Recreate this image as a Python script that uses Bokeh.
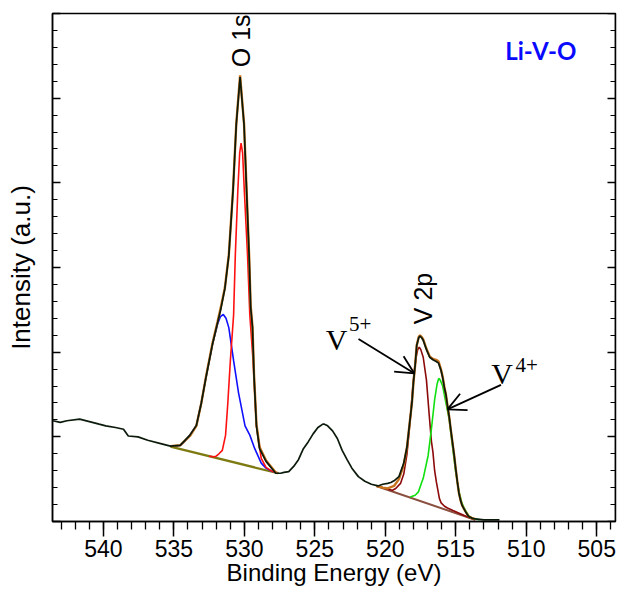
import math
from bokeh.plotting import figure
from bokeh.models import Range1d, LinearAxis, SingleIntervalTicker, Arrow, OpenHead
from bokeh.embed import file_html
from bokeh.resources import INLINE
from bokeh.core.properties import value

# ---------------- data (binding energy in eV, intensity in a.u.) ----------------
meas_e = [543.57, 543.06, 542.59, 541.68, 540.99, 540.30, 539.83, 539.14, 538.57, 538.23,
          537.54, 536.85, 535.93, 535.24, 534.55, 533.86, 533.40, 533.05, 532.71, 532.25,
          531.68, 531.38, 531.10, 530.80, 530.57, 530.30, 530.02, 529.84, 529.66, 529.55,
          529.42, 529.31, 529.14, 528.92, 528.46, 527.77, 527.42, 527.19, 526.85, 526.50,
          526.16, 525.81, 525.47, 525.12, 524.78, 524.43, 524.32, 524.09, 523.74, 523.40,
          523.06, 522.71, 522.37, 521.91, 521.45, 520.99, 520.52, 520.18, 519.83, 519.61,
          519.38, 519.03, 518.69, 518.46, 518.28, 518.11, 518.00, 517.88, 517.77, 517.63,
          517.54, 517.42, 517.31, 517.08, 516.85, 516.62, 516.39, 516.22, 516.04, 515.93,
          515.81, 515.70, 515.59, 515.47, 515.35, 515.24, 515.12, 515.01, 514.89, 514.78,
          514.66, 514.55, 514.32, 514.09, 513.86, 513.63, 513.00, 512.40, 511.90]
meas_i = [1.19, 1.17, 1.19, 1.21, 1.18, 1.15, 1.13, 1.11, 1.09, 1.01,
          1.00, 0.96, 0.92, 0.89, 0.90, 1.02, 1.135, 1.40, 1.71, 2.10,
          2.50, 2.75, 3.14, 3.91, 4.69, 5.25, 4.69, 3.91, 3.14, 2.53,
          2.29, 1.71, 1.13, 0.86, 0.71, 0.57, 0.57, 0.58, 0.59, 0.65,
          0.73, 0.86, 0.94, 1.035, 1.11, 1.15, 1.15, 1.13, 1.07, 0.98,
          0.84, 0.73, 0.63, 0.53, 0.475, 0.44, 0.42, 0.44, 0.45, 0.46,
          0.48, 0.53, 0.69, 0.88, 1.15, 1.40, 1.65, 1.85, 2.08, 2.17,
          2.19, 2.17, 2.14, 2.03, 1.94, 1.91, 1.89, 1.87, 1.78, 1.70,
          1.58, 1.50, 1.37, 1.24, 1.08, 0.94, 0.79, 0.63, 0.47, 0.34,
          0.25, 0.19, 0.12, 0.06, 0.04, 0.03, 0.02, 0.02, 0.02]

# fit envelopes
env_o_e = [535.24, 534.55, 533.86, 533.40, 533.05, 532.71, 532.25, 531.90, 531.68, 531.38,
           531.10, 530.80, 530.57, 530.30, 530.02, 529.84, 529.66, 529.55, 529.42, 529.31,
           529.14, 528.92, 528.46, 527.77, 527.60]
env_o_i = [0.89, 0.90, 1.01, 1.13, 1.40, 1.72, 2.11, 2.36, 2.52, 2.76,
           3.15, 3.92, 4.70, 5.27, 4.70, 3.92, 3.15, 2.55, 2.30, 1.73,
           1.15, 0.88, 0.72, 0.58, 0.57]
env_v_e = [520.64, 520.18, 519.83, 519.38, 519.03, 518.69, 518.46, 518.28, 518.11, 518.00,
           517.88, 517.77, 517.63, 517.54, 517.42, 517.31, 517.08, 516.85, 516.62, 516.39,
           516.22, 516.04, 515.93, 515.81, 515.70, 515.59, 515.47, 515.35, 515.24, 515.12,
           515.01, 514.89, 514.78, 514.66, 514.55, 514.32, 514.09, 513.86, 513.63]
env_v_i = [0.42, 0.40, 0.39, 0.42, 0.50, 0.67, 0.88, 1.15, 1.40, 1.65,
           1.85, 2.08, 2.18, 2.20, 2.18, 2.15, 2.04, 1.95, 1.92, 1.91,
           1.89, 1.79, 1.71, 1.59, 1.50, 1.37, 1.24, 1.08, 0.94, 0.79,
           0.63, 0.47, 0.34, 0.25, 0.19, 0.12, 0.06, 0.04, 0.03]

# O 1s components (incl. background)
o_hi_e = [535.24, 534.90, 534.55, 534.20, 533.86, 533.40, 533.05, 532.71, 532.25, 531.90,
          531.70, 531.49, 531.30, 531.10, 530.76, 530.41, 529.95, 529.61, 529.26, 528.80,
          528.46, 528.11, 527.77, 527.60]
o_hi_i = [0.89, 0.89, 0.90, 0.95, 1.02, 1.135, 1.40, 1.71, 2.10, 2.33,
          2.42, 2.445, 2.40, 2.29, 1.90, 1.52, 1.13, 1.02, 0.86, 0.69,
          0.63, 0.60, 0.58, 0.57]
o_lat_e = [532.50, 532.14, 532.02, 531.80, 531.56, 531.33, 531.17, 530.99, 530.76, 530.64,
           530.46, 530.33, 530.23, 530.12, 530.00, 529.77, 529.61, 529.38, 529.14, 528.80,
           528.46, 528.11, 527.77]
o_lat_i = [0.77, 0.765, 0.77, 0.80, 0.84, 1.02, 1.40, 1.90, 2.44, 3.14,
           3.91, 4.35, 4.47, 4.35, 3.91, 3.14, 2.44, 1.90, 1.13, 0.745,
           0.64, 0.60, 0.58]
bg_o_e = [535.24, 527.60]
bg_o_i = [0.885, 0.57]

# V 2p components (incl. background)
v5_e = [520.64, 520.18, 519.83, 519.49, 519.26, 518.92, 518.69, 518.46, 518.23, 518.07,
        517.94, 517.80, 517.70, 517.59, 517.48, 517.31, 517.08, 516.90, 516.73, 516.62,
        516.50, 516.38, 516.16, 516.04, 515.80, 515.59, 515.20, 514.80, 514.40, 514.00, 513.63]
v5_i = [0.42, 0.40, 0.38, 0.37, 0.39, 0.45, 0.56, 0.80, 1.20, 1.55,
        1.78, 1.95, 2.03, 2.06, 2.03, 1.94, 1.67, 1.29, 0.95, 0.82,
        0.60, 0.47, 0.27, 0.22, 0.18, 0.16, 0.13, 0.10, 0.07, 0.04, 0.02]
v4_e = [518.23, 517.88, 517.65, 517.42, 517.31, 516.96, 516.73, 516.50, 516.33, 516.21,
        516.10, 515.93, 515.70, 515.47, 515.24, 515.01, 514.78, 514.60, 514.43, 514.09,
        513.86, 513.63, 513.30]
v4_i = [0.29, 0.31, 0.35, 0.46, 0.51, 0.78, 1.09, 1.44, 1.62, 1.69,
        1.67, 1.60, 1.40, 1.21, 0.90, 0.59, 0.36, 0.24, 0.165, 0.07,
        0.04, 0.03, 0.02]
bg_v_e = [520.64, 513.63]
bg_v_i = [0.42, 0.02]

x_ticks_interval = 5
y_ticks_interval = 1
X_LEFT, X_RIGHT = 543.607, 503.67

FONT = "Liberation Sans"
SERIF = "Liberation Serif"

p = figure(width=617, height=593,
           x_range=Range1d(X_LEFT, X_RIGHT), y_range=Range1d(0, 6),
           output_backend="svg", toolbar_location=None,
           min_border_left=52, min_border_right=2, min_border_top=13, min_border_bottom=72)
p.background_fill_color = "white"
p.border_fill_color = "white"
p.outline_line_color = "black"
p.outline_line_width = 1.5
p.xgrid.visible = False
p.ygrid.visible = False

# bottom axis
xa = p.xaxis[0]
xa.ticker = SingleIntervalTicker(interval=x_ticks_interval, num_minor_ticks=5)
xa.axis_label = "Binding Energy (eV)"
xa.axis_label_text_font = FONT
xa.axis_label_text_font_size = "24px"
xa.axis_label_text_font_style = "normal"
xa.axis_label_text_color = "black"
xa.axis_label_standoff = -1
xa.major_label_text_font = FONT
xa.major_label_text_font_size = "23px"
xa.major_label_text_color = "black"
xa.major_label_standoff = 3
xa.major_tick_in = 0
xa.major_tick_out = 15
xa.minor_tick_in = 0
xa.minor_tick_out = 8
xa.axis_line_width = 1.5
xa.major_tick_line_width = 1.5
xa.minor_tick_line_width = 1.3


def inner_y_axis(ax):
    ax.ticker = SingleIntervalTicker(interval=y_ticks_interval, num_minor_ticks=5)
    ax.major_label_text_font_size = "0px"
    ax.major_label_text_color = None
    ax.major_label_standoff = 0
    ax.major_tick_in = 8
    ax.major_tick_out = 0
    ax.minor_tick_in = 5
    ax.minor_tick_out = 0
    ax.axis_line_width = 1.5
    ax.major_tick_line_width = 1.3
    ax.minor_tick_line_width = 1.2


# left axis
ya = p.yaxis[0]
inner_y_axis(ya)
ya.axis_label = "Intensity (a.u.)"
ya.axis_label_text_font = FONT
ya.axis_label_text_font_size = "26px"
ya.axis_label_text_font_style = "normal"
ya.axis_label_text_color = "black"
ya.axis_label_standoff = 17

# right axis, pinned to the right edge of the frame (takes no panel space)
ra = LinearAxis(fixed_location=X_RIGHT)
inner_y_axis(ra)
p.add_layout(ra, "right")

# curves
p.line(bg_o_e, bg_o_i, line_color="#7d7a12", line_width=2.2)
p.line(bg_v_e, bg_v_i, line_color="#8a4f3f", line_width=2.0)
p.line(o_hi_e, o_hi_i, line_color="#1010ff", line_width=1.6)
p.line(o_lat_e, o_lat_i, line_color="#ff1010", line_width=1.6)
p.line(v5_e, v5_i, line_color="#8b0a0a", line_width=1.6)
p.line(v4_e, v4_i, line_color="#10e010", line_width=1.6)
p.line(env_o_e, env_o_i, line_color="#c8741e", line_width=2.4)
p.line(env_v_e, env_v_i, line_color="#c8741e", line_width=2.4)
p.line(meas_e, meas_i, line_color="#0b1a0b", line_width=1.7)

# annotations
p.text(x=[530.23], y=[5.365], text=["O 1s"], angle=math.pi / 2,
       text_font=value(FONT), text_font_size="25px", text_align="left",
       text_baseline="middle", text_color="black")
p.text(x=[517.33], y=[2.33], text=["V 2p"], angle=math.pi / 2,
       text_font=value(FONT), text_font_size="25px", text_align="left",
       text_baseline="middle", text_color="black")
p.text(x=[511.49], y=[5.56], text=["Li-V-O"],
       text_font=value("Lato"), text_font_size="24px", text_font_style="bold",
       text_align="left", text_baseline="middle", text_color="#0a0aff")
p.text(x=[524.23], y=[2.155], text=["V"], text_font=value(SERIF),
       text_font_size="30px", text_align="left", text_baseline="alphabetic", text_color="black")
p.text(x=[522.57], y=[2.33], text=["5+"], text_font=value(SERIF),
       text_font_size="21px", text_align="left", text_baseline="alphabetic", text_color="black")
p.text(x=[512.48], y=[1.75], text=["V"], text_font=value(SERIF),
       text_font_size="30px", text_align="left", text_baseline="alphabetic", text_color="black")
p.text(x=[510.76], y=[1.846], text=["4+"], text_font=value(SERIF),
       text_font_size="21px", text_align="left", text_baseline="alphabetic", text_color="black")

p.add_layout(Arrow(end=OpenHead(size=18, line_width=1.8, line_color="black"),
                   x_start=521.90, y_start=2.155, x_end=517.95, y_end=1.75,
                   line_width=1.8, line_color="black"))
p.add_layout(Arrow(end=OpenHead(size=18, line_width=1.8, line_color="black"),
                   x_start=511.79, y_start=1.614, x_end=515.59, y_end=1.324,
                   line_width=1.8, line_color="black"))

open("out.html", "w").write(file_html(p, INLINE))
